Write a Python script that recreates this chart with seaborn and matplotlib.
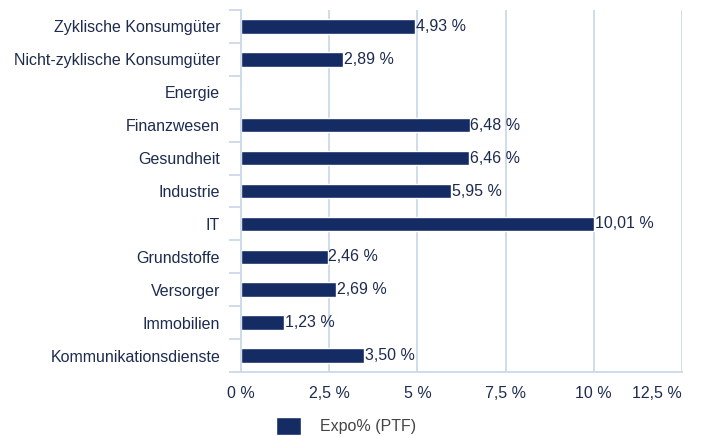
import matplotlib
matplotlib.use("Agg")
import matplotlib.pyplot as plt
import seaborn as sns
import pandas as pd
import numpy as np

# Sector exposure data
sectors = [
    "Zyklische Konsumgüter", "Nicht-zyklische Konsumgüter", "Energie",
    "Finanzwesen", "Gesundheit", "Industrie", "IT", "Grundstoffe",
    "Versorger", "Immobilien", "Kommunikationsdienste",
]
expo = [4.93, 2.89, 0.0, 6.48, 6.46, 5.95, 10.01, 2.46, 2.69, 1.23, 3.50]
labels = ["4,93 %", "2,89 %", "", "6,48 %", "6,46 %", "5,95 %", "10,01 %",
          "2,46 %", "2,69 %", "1,23 %", "3,50 %"]
xticks = [0, 2.5, 5, 7.5, 10, 12.5]
xtick_labels = ["0 %", "2,5 %", "5 %", "7,5 %", "10 %", "12,5 %"]

df = pd.DataFrame({"Sektor": sectors, "Expo": expo})

sns.set_style("white")
plt.rcParams["font.family"] = ["Liberation Sans", "DejaVu Sans"]

navy = "#142b63"
text_col = "#1d2b4f"
grid_col = "#ccd9e8"
fs = 11.5

fig = plt.figure(figsize=(7.01, 4.36), dpi=100)
ax = fig.add_axes([241 / 701, 1 - 372 / 436, (682 - 241) / 701, (372 - 10) / 436])

sns.barplot(data=df, y="Sektor", x="Expo", orient="h", color=navy,
            width=0.44, saturation=1, ax=ax, label="Expo% (PTF)")
handles, leg_labels = ax.get_legend_handles_labels()
if ax.get_legend() is not None:
    ax.get_legend().remove()

ax.set_xlim(0, 12.5)
ax.set_ylim(len(sectors) - 0.5, -0.5)
ax.set_xticks(xticks)
ax.set_xticklabels(xtick_labels, color=text_col, fontsize=fs)
ax.get_xticklabels()[-1].set_horizontalalignment("right")
ax.set_yticks(range(len(sectors)))
ax.set_yticklabels(sectors, color=text_col, fontsize=fs)
ax.set_yticks(np.arange(-0.5, len(sectors), 1.0), minor=True)
ax.tick_params(axis="y", which="major", left=True, length=0, pad=15)
ax.tick_params(axis="y", which="minor", left=True, length=9, width=1.3, color=grid_col)
ax.tick_params(axis="x", length=0, pad=10)
ax.set_xlabel("")
ax.set_ylabel("")

ax.grid(axis="x", color=grid_col, linewidth=1.3)
ax.set_axisbelow(True)
for side in ["top", "right"]:
    ax.spines[side].set_visible(False)
for side in ["left", "bottom"]:
    ax.spines[side].set_color(grid_col)
    ax.spines[side].set_linewidth(1.3)

for i, (v, lab) in enumerate(zip(expo, labels)):
    if lab:
        ax.text(v + 0.02, i, lab, va="center", ha="left", color=text_col, fontsize=fs)

leg = fig.legend(handles, leg_labels, loc="center left",
                 bbox_to_anchor=(276 / 701, 1 - 426 / 436), frameon=False,
                 fontsize=fs, handlelength=1.55, handleheight=1.4, handletextpad=1.2,
                 borderaxespad=0, borderpad=0)
for t in leg.get_texts():
    t.set_color("#444444")

fig.savefig("out.png", dpi=100)
